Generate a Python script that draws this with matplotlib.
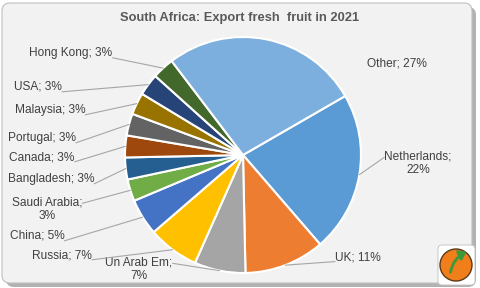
import matplotlib
matplotlib.use("Agg")
from matplotlib import pyplot as plt
from matplotlib.patches import FancyBboxPatch, Circle, FancyArrowPatch
import numpy as np

plt.rcParams['font.family'] = ['Liberation Sans', 'DejaVu Sans']

# data
countries = ["Netherlands", "UK", "Un Arab Em", "Russia", "China", "Saudi Arabia",
             "Bangladesh", "Canada", "Portugal", "Malaysia", "USA", "Hong Kong", "Other"]
shares = [22, 11, 7, 7, 5, 3, 3, 3, 3, 3, 3, 3, 27]
labels = ["Netherlands;\n22%", "UK; 11%", "Un Arab Em;\n7%", "Russia; 7%", "China; 5%",
          "Saudi Arabia;\n3%", "Bangladesh; 3%", "Canada; 3%", "Portugal; 3%",
          "Malaysia; 3%", "USA; 3%", "Hong Kong; 3%", "Other; 27%"]
colors = ["#5B9BD5", "#ED7D31", "#A5A5A5", "#FFC000", "#4472C4", "#70AD47",
          "#255E91", "#9E480E", "#636363", "#997300", "#264478", "#43682B", "#7CAFDD"]

# label centres in pixels (x from left, y from top) and where the leader leaves the label
label_px = [(418, 163), (358, 258), (139, 269), (62, 255), (37, 236), (47, 209),
            (51, 179), (42, 157), (42, 138), (50, 110), (38, 87), (71, 53), (397, 64)]
leader_rel = [(0, 0.72), (0, 0.2), (1, 0.72), (1, 0.1), (1, 0.1), (1, 0.72),
              (1, 0.1), (1, 0.1), (1, 0.1), (1, 0.1), (1, 0.1), (1, 0.1), None]

W, H = 480, 288
fig = plt.figure(figsize=(W / 100, H / 100), dpi=100)
fig.patch.set_facecolor("white")

# frame with shadow
shadow = FancyBboxPatch((6 / 100, 1 / 100), 470 / 100, 280 / 100,
                        boxstyle="round,pad=0,rounding_size=0.08",
                        transform=fig.dpi_scale_trans, facecolor="#7F7F7F",
                        edgecolor="none", alpha=0.6, zorder=-3)
frame = FancyBboxPatch((2 / 100, 5 / 100), 470 / 100, 280 / 100,
                       boxstyle="round,pad=0,rounding_size=0.08",
                       transform=fig.dpi_scale_trans, facecolor="#F2F2F2",
                       edgecolor="#BFBFBF", lw=0.8, zorder=-2)
fig.patches.extend([shadow, frame])

fig.text(240 / W, 1 - 18 / H, "South Africa: Export fresh  fruit in 2021",
         ha="center", va="center", fontsize=9.3, fontweight="bold", color="#595959")

cx, cy, r = 243, 155, 118
ax = fig.add_axes([(cx - r) / W, (H - cy - r) / H, 2 * r / W, 2 * r / H])
ax.set_zorder(1)
ax.patch.set_visible(False)
ax.axis("off")

wedges, _ = ax.pie(shares, colors=colors, startangle=30, counterclock=False, radius=1,
                   wedgeprops=dict(edgecolor="white", linewidth=1.5))
ax.set_xlim(-1, 1)
ax.set_ylim(-1, 1)

for w, lab, (px, py), rel in zip(wedges, labels, label_px, leader_rel):
    mid = np.deg2rad((w.theta1 + w.theta2) / 2)
    props = None
    if rel is not None:
        props = dict(arrowstyle="-", color="#A6A6A6", lw=0.8,
                     shrinkA=0, shrinkB=0, relpos=rel, patchA=None)
    ax.annotate(lab, xy=(np.cos(mid), np.sin(mid)),
                xytext=(px / W, 1 - py / H), textcoords="figure fraction",
                ha="center", va="center", multialignment="center",
                fontsize=8.6, color="#404040", annotation_clip=False,
                arrowprops=props)

# small logo
badge = FancyBboxPatch((438 / 100, (H - 285) / 100), 37 / 100, 40 / 100,
                       boxstyle="round,pad=0,rounding_size=0.04",
                       transform=fig.dpi_scale_trans, facecolor="white",
                       edgecolor="#BFBFBF", lw=0.6, zorder=2)
logo = Circle((456 / 100, (H - 265) / 100), 0.16, transform=fig.dpi_scale_trans,
              facecolor="#F07F1B", edgecolor="#5A3A1A", lw=1, zorder=3)
arrow = FancyArrowPatch((450 / 100, (H - 275) / 100), (469 / 100, (H - 251) / 100),
                        transform=fig.dpi_scale_trans, connectionstyle="arc3,rad=-0.3",
                        arrowstyle="-|>,head_length=4,head_width=3", color="#3A9A3A",
                        lw=2, zorder=4)
fig.patches.extend([badge, logo, arrow])

fig.savefig("out.png", dpi=100)
